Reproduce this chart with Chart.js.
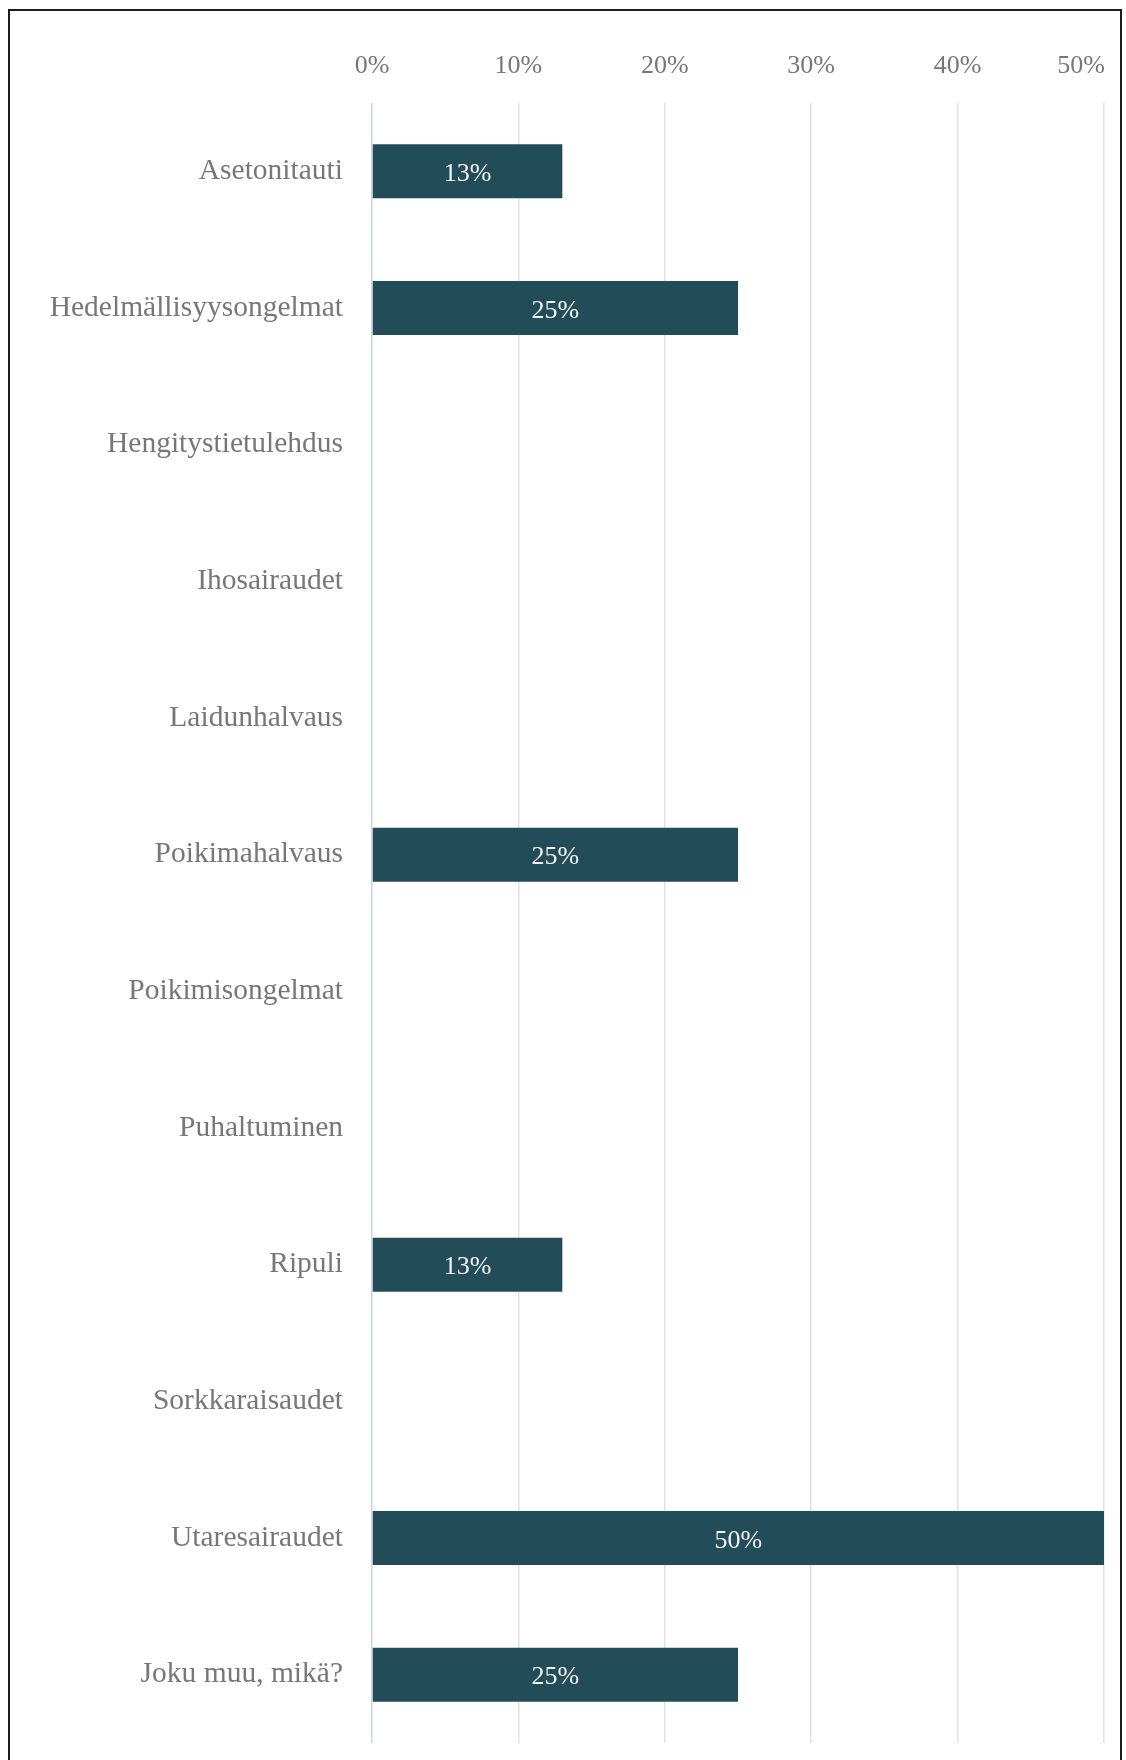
<!DOCTYPE html>
<html>
<head>
<meta charset="utf-8">
<script src="https://cdn.jsdelivr.net/npm/chart.js@4"></script>
<style>
    body { margin: 0; background: #fff; }
    .frame {
        position: absolute;
        left: 8px;
        top: 9px;
        width: 1110px;
        height: 1800px;
        border: 2px solid #1c1c1c;
    }
    .chart-box {
        position: absolute;
        left: 0;
        top: 0;
        width: 1126px;
        height: 1760px;
    }
</style>
</head>
<body>
<div class="frame"></div>
<div class="chart-box"><canvas id="chart"></canvas></div>
<script>
const categories = [
    'Asetonitauti',
    'Hedelmällisyysongelmat',
    'Hengitystietulehdus',
    'Ihosairaudet',
    'Laidunhalvaus',
    'Poikimahalvaus',
    'Poikimisongelmat',
    'Puhaltuminen',
    'Ripuli',
    'Sorkkaraisaudet',
    'Utaresairaudet',
    'Joku muu, mikä?'
];
const shares = [13, 25, 0, 0, 0, 25, 0, 0, 13, 0, 50, 25];
const axisMax = 50;
const axisStep = 10;

// draws the % value in the middle of each bar
const barLabels = {
    id: 'barLabels',
    afterDatasetsDraw(chart) {
        const ctx = chart.ctx;
        const meta = chart.getDatasetMeta(0);
        ctx.save();
        ctx.font = '26px "Liberation Serif", serif';
        ctx.fillStyle = '#f2f2f2';
        ctx.textAlign = 'center';
        ctx.textBaseline = 'middle';
        meta.data.forEach((bar, i) => {
            const v = shares[i];
            if (!v) return;
            const mid = (bar.x + bar.base) / 2;
            ctx.fillText(Math.round(v) + '%', mid, bar.y + 3);
        });
        ctx.restore();
    }
};

// keep the last top tick label inside the frame (right aligned to its line)
const lastTickInside = {
    id: 'lastTickInside',
    beforeDraw(chart) {
        const items = chart.scales.x.getLabelItems();
        if (items.length) {
            items[items.length - 1].options.textAlign = 'right';
            items[items.length - 1].options.translation[0] += 1;
        }
    }
};

const ctx = document.getElementById('chart').getContext('2d');
new Chart(ctx, {
    type: 'bar',
    data: {
        labels: categories,
        datasets: [{
            data: shares,
            backgroundColor: '#234c59',
            barPercentage: 0.395,
            categoryPercentage: 1
        }]
    },
    options: {
        indexAxis: 'y',
        responsive: true,
        maintainAspectRatio: false,
        animation: false,
        layout: {
            padding: { left: 0, right: 22, top: 0, bottom: 17 }
        },
        plugins: {
            legend: { display: false },
            tooltip: { enabled: false }
        },
        scales: {
            x: {
                position: 'top',
                min: 0,
                max: axisMax,
                border: { display: false },
                grid: {
                    drawTicks: false,
                    lineWidth: 1.5,
                    color: c => c.tick && c.tick.value === 0 ? '#c9d3ea' : '#e2e2e2'
                },
                ticks: {
                    stepSize: axisStep,
                    padding: 21,
                    color: '#777',
                    font: { family: '"Liberation Serif", serif', size: 26 },
                    callback: v => v + '%'
                },
                afterFit: scale => {
                    scale.height = 103;
                    scale.paddingLeft = 0;
                    scale.paddingRight = 0;
                }
            },
            y: {
                border: { display: false },
                grid: { display: false, drawTicks: false },
                ticks: {
                    padding: 29,
                    color: '#777',
                    font: { family: '"Liberation Serif", serif', size: 29.5 }
                },
                afterFit: scale => {
                    scale.width = 372;
                    scale.paddingTop = 0;
                    scale.paddingBottom = 0;
                }
            }
        }
    },
    plugins: [barLabels, lastTickInside]
});
</script>
</body>
</html>
